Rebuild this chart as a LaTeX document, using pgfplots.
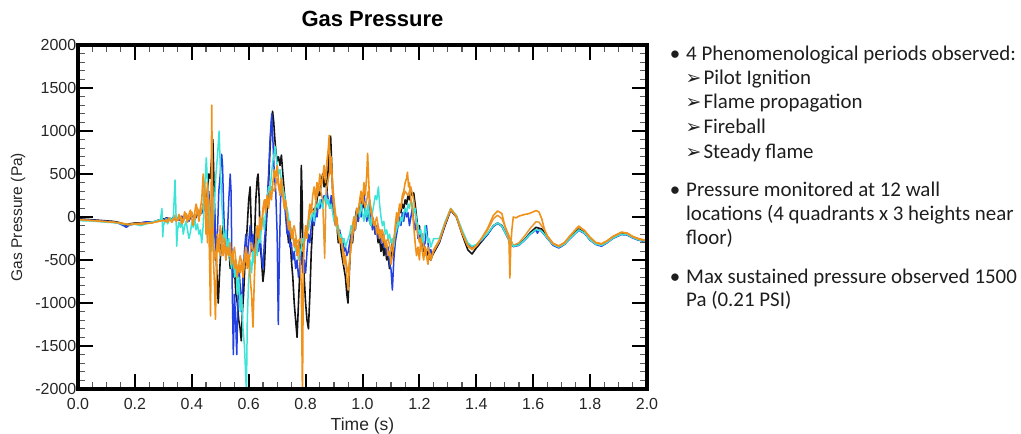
\documentclass[border=0pt]{standalone}
\usepackage{fontspec}
\usepackage{pgfplots}
\pgfplotsset{compat=1.18}
\setmainfont{Liberation Sans}
\newfontfamily\bodyfont{Carlito}
\newfontfamily\symfont{DejaVu Sans}

\definecolor{trBlack}{RGB}{20,20,20}
\definecolor{trBlue}{RGB}{35,65,225}
\definecolor{trCyan}{RGB}{60,228,215}
\definecolor{trOrange}{RGB}{240,145,25}
\definecolor{trOrangeB}{RGB}{232,150,45}
\definecolor{txt}{RGB}{30,30,30}

\begin{document}
\begin{tikzpicture}[x=1pt,y=1pt]
\useasboundingbox (0,0) rectangle (1021,434);

\begin{axis}[
  name=ax,
  at={(78pt,45pt)}, anchor=south west,
  scale only axis, width=569pt, height=344pt,
  xmin=0, xmax=2, ymin=-2000, ymax=2000,
  xtick={0,0.2,...,2.0}, ytick={-2000,-1500,...,2000},
  minor x tick num=3, minor y tick num=4,
  tick align=inside,
  tickwidth=15pt, subtickwidth=7pt,
  major tick length=15pt, minor tick length=7pt,
  every tick/.style={black},
  every major tick/.append style={line width=2pt, black},
  every minor tick/.append style={line width=1.2pt, black!65},
  clip=true,
  /pgf/number format/assume math mode=true,
  xticklabel style={font=\fontsize{16}{16}\selectfont, text=black!85,
    anchor=base, yshift=-20.7pt,
    /pgf/number format/.cd, fixed, fixed zerofill, precision=1},
  yticklabel style={font=\fontsize{16}{16}\selectfont, text=black!85, inner sep=1.5pt,
    /pgf/number format/.cd, fixed, set thousands separator={}},
  xlabel={Time (s)},
  ylabel={Gas Pressure (Pa)},
  every axis x label/.style={font=\fontsize{17.5}{17.5}\selectfont, text=black!85,
    at={(axis description cs:0.5,0)}, anchor=base, yshift=-41.7pt},
  every axis y label/.style={font=\fontsize{15.5}{15.5}\selectfont, text=black!85,
    at={(axis description cs:-0.1054,0.5)}, anchor=center, rotate=90},
  title={\textbf{Gas Pressure}},
  every axis title/.style={font=\fontsize{22}{22}\selectfont,
    at={(axis description cs:0.5,1)}, anchor=base, yshift=18.3pt, xshift=10pt},
  line join=round,
]

% wall sensor A (black)
\addplot[trBlack, line width=1.6pt] coordinates {
(0.00,-20) (0.02,-25) (0.04,-30) (0.06,-35) (0.08,-40) (0.10,-45) (0.12,-50) (0.14,-60)
(0.16,-80) (0.17,-95) (0.18,-80) (0.20,-70) (0.22,-70) (0.24,-60) (0.26,-65) (0.28,-40)
(0.30,-20) (0.305,-30) (0.31,-10) (0.315,-20) (0.32,-15) (0.325,-25) (0.33,-20) (0.335,-10)
(0.34,-30) (0.345,-15) (0.35,-20) (0.355,-10) (0.36,-20) (0.365,-5) (0.37,-15) (0.375,-10)
(0.38,0) (0.385,-20) (0.39,-30) (0.395,0) (0.40,20) (0.405,10) (0.41,-30) (0.415,0)
(0.42,40) (0.425,30) (0.43,70) (0.435,60) (0.44,120) (0.445,150) (0.45,100) (0.455,300)
(0.46,500) (0.465,450) (0.47,700) (0.474,900) (0.478,400) (0.482,-200) (0.486,-500) (0.49,-800)
(0.493,-1000) (0.497,-700) (0.50,-500) (0.505,-250) (0.51,-100) (0.515,-300) (0.52,-250) (0.525,-400)
(0.53,-350) (0.535,-600) (0.54,-500) (0.545,-700) (0.55,-600) (0.555,-900) (0.56,-1000) (0.565,-1200)
(0.57,-1300) (0.574,-1440) (0.578,-1100) (0.582,-900) (0.586,-600) (0.59,-400) (0.595,-100) (0.60,200)
(0.605,350) (0.61,-200) (0.615,-500) (0.62,-300) (0.625,200) (0.63,450) (0.633,500) (0.637,200)
(0.64,-300) (0.645,-500) (0.65,-750) (0.655,-600) (0.66,-200) (0.665,100) (0.67,400) (0.675,800)
(0.68,1100) (0.684,1230) (0.688,1100) (0.692,900) (0.696,750) (0.70,650) (0.705,700) (0.71,600)
(0.715,720) (0.72,500) (0.725,300) (0.73,100) (0.735,-100) (0.74,-300) (0.745,-200) (0.75,-500)
(0.755,-700) (0.76,-1000) (0.765,-1200) (0.77,-1400) (0.775,-1000) (0.78,-600) (0.785,600) (0.788,200)
(0.79,-400) (0.795,-700) (0.80,-1000) (0.805,-1200) (0.81,-1300) (0.815,-900) (0.82,-400) (0.825,-100)
(0.83,100) (0.835,50) (0.84,200) (0.845,300) (0.85,250) (0.855,400) (0.86,500) (0.865,350)
(0.87,450) (0.875,300) (0.88,600) (0.885,900) (0.888,940) (0.892,600) (0.895,300) (0.90,100)
(0.905,0) (0.91,-100) (0.915,-300) (0.92,-200) (0.925,-400) (0.93,-500) (0.935,-600) (0.94,-700)
(0.945,-900) (0.949,-1000) (0.953,-700) (0.957,-400) (0.96,-200) (0.965,-300) (0.97,-100) (0.975,0)
(0.98,100) (0.985,-50) (0.99,150) (0.995,250) (1.00,100) (1.005,200) (1.01,50) (1.015,0)
(1.02,100) (1.025,-50) (1.03,-100) (1.035,0) (1.04,-100) (1.045,-200) (1.05,-150) (1.055,-300)
(1.06,-250) (1.065,-400) (1.07,-300) (1.075,-450) (1.08,-350) (1.085,-500) (1.09,-450) (1.095,-600)
(1.10,-500) (1.105,-300) (1.11,-450) (1.115,-200) (1.12,-100) (1.125,0) (1.13,100) (1.135,50)
(1.14,150) (1.145,100) (1.15,200) (1.155,150) (1.16,250) (1.165,200) (1.17,300) (1.175,250)
(1.18,280) (1.185,150) (1.19,0) (1.195,-150) (1.20,-100) (1.205,-300) (1.21,-200) (1.215,-400)
(1.22,-350) (1.225,-450) (1.23,-400) (1.235,-480) (1.24,-500) (1.245,-450) (1.25,-420)
(1.27,-300) (1.29,-100) (1.31,80) (1.33,0) (1.35,-200) (1.37,-380) (1.385,-430) (1.40,-360)
(1.42,-280) (1.44,-200) (1.46,-100) (1.475,-70) (1.49,-100) (1.51,-230) (1.53,-340) (1.55,-320)
(1.57,-260) (1.59,-180) (1.61,-120) (1.63,-140) (1.65,-230) (1.67,-320) (1.69,-350) (1.71,-310)
(1.73,-230) (1.76,-140) (1.78,-180) (1.80,-260) (1.82,-310) (1.84,-325) (1.86,-290) (1.88,-240)
(1.91,-195) (1.93,-200) (1.95,-235) (1.97,-260) (2.00,-285)
};

% wall sensor B (blue)
\addplot[trBlue, line width=1.5pt] coordinates {
(0.00,-25) (0.02,-30) (0.04,-35) (0.06,-40) (0.08,-45) (0.10,-50) (0.12,-55) (0.14,-70)
(0.16,-100) (0.17,-120) (0.18,-95) (0.20,-80) (0.22,-70) (0.24,-55) (0.26,-60) (0.28,-45)
(0.30,-30) (0.305,-20) (0.31,-40) (0.315,-10) (0.32,-30) (0.325,-20) (0.33,-40) (0.335,0)
(0.34,-20) (0.345,-30) (0.35,-10) (0.355,-40) (0.36,-20) (0.365,10) (0.37,-30) (0.375,-10)
(0.38,20) (0.385,-20) (0.39,-50) (0.395,-10) (0.40,30) (0.405,0) (0.41,-40) (0.415,20)
(0.42,60) (0.425,10) (0.43,80) (0.435,40) (0.44,150) (0.445,80) (0.45,200) (0.455,100)
(0.46,300) (0.465,-100) (0.47,200) (0.475,-300) (0.48,100) (0.485,-400) (0.49,-200) (0.495,300)
(0.50,500) (0.505,730) (0.508,600) (0.512,100) (0.516,-300) (0.52,-500) (0.525,-200) (0.53,200)
(0.535,500) (0.538,300) (0.542,-800) (0.546,-1600) (0.55,-900) (0.554,-1200) (0.558,-1600) (0.562,-1000)
(0.566,-600) (0.57,-800) (0.575,-1100) (0.58,-700) (0.585,-400) (0.59,-200) (0.595,-500) (0.60,-300)
(0.605,-100) (0.61,-400) (0.615,-200) (0.62,-500) (0.625,-300) (0.63,-150) (0.635,-400) (0.64,-200)
(0.645,-450) (0.65,-600) (0.655,-300) (0.66,-100) (0.665,200) (0.67,500) (0.675,900) (0.681,1200)
(0.685,900) (0.69,500) (0.695,300) (0.70,-200) (0.704,-1250) (0.708,-400) (0.712,200) (0.716,400)
(0.72,300) (0.725,200) (0.73,0) (0.735,-200) (0.74,-100) (0.745,-350) (0.75,-300) (0.755,-500)
(0.76,-400) (0.765,-600) (0.77,-500) (0.775,-700) (0.78,-600) (0.785,-400) (0.79,-650) (0.795,-500)
(0.80,-650) (0.805,-400) (0.81,-200) (0.815,-300) (0.82,-100) (0.825,0) (0.83,-100) (0.835,50)
(0.84,0) (0.845,150) (0.85,100) (0.855,200) (0.86,150) (0.865,250) (0.87,200) (0.875,300)
(0.88,200) (0.885,100) (0.89,250) (0.895,100) (0.90,0) (0.905,-100) (0.91,-50) (0.915,-200)
(0.92,-150) (0.925,-300) (0.93,-250) (0.935,-400) (0.94,-350) (0.945,-450) (0.95,-400) (0.955,-300)
(0.96,-200) (0.965,-250) (0.97,-100) (0.975,-150) (0.98,0) (0.985,-50) (0.99,100) (0.995,0)
(1.00,150) (1.005,300) (1.01,100) (1.015,-50) (1.02,50) (1.025,200) (1.03,0) (1.035,-150)
(1.04,-50) (1.045,-200) (1.05,-100) (1.055,-250) (1.06,-150) (1.065,-300) (1.07,-200) (1.075,-350)
(1.08,-300) (1.085,-450) (1.09,-350) (1.095,-550) (1.10,-600) (1.105,-850) (1.11,-500) (1.115,-300)
(1.12,-200) (1.125,-100) (1.13,0) (1.135,-100) (1.14,50) (1.145,-50) (1.15,100) (1.155,0)
(1.16,50) (1.165,-100) (1.17,0) (1.175,100) (1.18,-50) (1.185,-150) (1.19,-50) (1.195,-250)
(1.20,-150) (1.205,-300) (1.21,-250) (1.215,-350) (1.22,-300) (1.225,-100) (1.23,-300) (1.235,-420)
(1.24,-380) (1.245,-450) (1.25,-400)
(1.27,-290) (1.29,-90) (1.31,85) (1.33,10) (1.35,-170) (1.37,-320) (1.385,-360) (1.40,-330)
(1.42,-270) (1.44,-200) (1.46,-110) (1.475,-75) (1.49,-110) (1.51,-240) (1.53,-345) (1.55,-330)
(1.57,-270) (1.59,-200) (1.61,-150) (1.615,-190) (1.62,-150) (1.63,-170) (1.65,-250) (1.67,-330)
(1.69,-360) (1.71,-320) (1.73,-250) (1.76,-155) (1.78,-190) (1.80,-270) (1.82,-320) (1.84,-340)
(1.86,-300) (1.88,-250) (1.91,-205) (1.93,-210) (1.95,-245) (1.97,-270) (2.00,-290)
};

% wall sensor C (second orange)
\addplot[trOrangeB, line width=1.5pt] coordinates {
(0.00,-35) (0.04,-40) (0.08,-50) (0.12,-60) (0.16,-75) (0.18,-85) (0.20,-75) (0.24,-70)
(0.28,-55) (0.30,-35) (0.31,-60) (0.32,-10) (0.33,-40) (0.34,20) (0.35,-40) (0.36,10)
(0.37,-60) (0.38,40) (0.39,-30) (0.40,60) (0.41,-40) (0.42,100) (0.43,20) (0.44,150)
(0.445,400) (0.45,100) (0.455,-300) (0.46,200) (0.465,-400) (0.47,300) (0.475,-200) (0.48,-500)
(0.49,-300) (0.50,-450) (0.51,-200) (0.52,-400) (0.53,-300) (0.54,-500) (0.55,-350) (0.56,-650)
(0.57,-450) (0.58,-600) (0.59,-350) (0.60,-550) (0.61,-300) (0.62,-450) (0.63,-150) (0.64,-250)
(0.65,50) (0.66,200) (0.67,150) (0.68,350) (0.69,300) (0.70,450) (0.71,250) (0.72,350)
(0.73,100) (0.74,-50) (0.75,-200) (0.76,-100) (0.77,-300) (0.78,-250) (0.79,-400) (0.80,-200)
(0.81,-50) (0.82,100) (0.83,50) (0.84,250) (0.85,350) (0.86,200) (0.867,-480) (0.872,300)
(0.88,450) (0.89,600) (0.90,200) (0.91,-100) (0.92,-250) (0.93,-350) (0.94,-500) (0.95,-650)
(0.96,-350) (0.97,-100) (0.98,50) (0.99,150) (1.00,250) (1.01,100) (1.02,300) (1.03,50)
(1.04,-100) (1.05,0) (1.06,-200) (1.07,-150) (1.08,-300) (1.09,-250) (1.10,-400) (1.11,-250)
(1.12,-100) (1.13,50) (1.14,200) (1.15,300) (1.16,250) (1.17,350) (1.18,200) (1.19,-100)
(1.20,-300) (1.21,-200) (1.22,-450) (1.23,-350) (1.24,-480) (1.25,-400)
(1.27,-280) (1.29,-70) (1.31,90) (1.33,5) (1.35,-190) (1.37,-340) (1.385,-380) (1.40,-340)
(1.42,-250) (1.44,-150) (1.46,-20) (1.475,20) (1.49,-20) (1.51,-180) (1.53,-330) (1.55,-300)
(1.57,-220) (1.59,-130) (1.61,-55) (1.62,-60) (1.64,-150) (1.65,-220) (1.67,-305) (1.69,-335)
(1.71,-295) (1.73,-215) (1.76,-105) (1.78,-155) (1.80,-235) (1.82,-295) (1.84,-310) (1.86,-275)
(1.88,-225) (1.91,-175) (1.93,-185) (1.95,-225) (1.97,-250) (2.00,-275)
};

% wall sensor D (cyan)
\addplot[trCyan, line width=1.5pt] coordinates {
(0.00,-40) (0.02,-45) (0.04,-45) (0.06,-50) (0.08,-55) (0.10,-60) (0.12,-65) (0.14,-70)
(0.16,-85) (0.18,-90) (0.20,-85) (0.22,-100) (0.24,-80) (0.26,-60) (0.28,-40) (0.29,-30)
(0.295,100) (0.298,-230) (0.30,-100) (0.305,-60) (0.31,-20) (0.315,-80) (0.32,-40) (0.325,-10)
(0.33,-60) (0.335,-20) (0.341,430) (0.344,100) (0.347,-340) (0.35,-150) (0.355,-60) (0.36,-120)
(0.365,-40) (0.37,-200) (0.375,-100) (0.38,-50) (0.385,-150) (0.39,-250) (0.395,-180) (0.40,-60)
(0.405,-120) (0.41,-20) (0.415,-150) (0.42,-80) (0.425,-200) (0.43,-150) (0.435,-300) (0.44,-100)
(0.445,300) (0.451,690) (0.455,400) (0.46,100) (0.465,-200) (0.47,-400) (0.475,-100) (0.48,200)
(0.485,500) (0.49,700) (0.496,1000) (0.50,600) (0.505,200) (0.51,-100) (0.515,-300) (0.52,-150)
(0.525,-400) (0.53,-250) (0.535,-500) (0.54,-600) (0.545,-400) (0.55,-700) (0.555,-550) (0.56,-900)
(0.565,-700) (0.57,-1100) (0.575,-900) (0.58,-1300) (0.585,-1500) (0.589,-1800) (0.592,-2050) (0.595,-1200)
(0.60,-700) (0.605,-500) (0.61,-650) (0.615,-400) (0.62,-550) (0.625,-300) (0.63,-450) (0.635,-200)
(0.64,-300) (0.645,-100) (0.65,0) (0.655,-150) (0.66,100) (0.665,200) (0.67,350) (0.675,300)
(0.68,500) (0.685,650) (0.69,750) (0.693,820) (0.697,700) (0.70,600) (0.705,500) (0.71,550)
(0.715,400) (0.72,350) (0.725,250) (0.73,150) (0.735,100) (0.74,0) (0.745,-100) (0.75,-150)
(0.755,-250) (0.76,-300) (0.765,-400) (0.77,-350) (0.775,-500) (0.78,-450) (0.785,-350) (0.79,-250)
(0.795,-300) (0.80,-200) (0.805,-100) (0.81,-150) (0.815,-50) (0.82,0) (0.825,50) (0.83,-50)
(0.835,100) (0.84,150) (0.845,100) (0.85,200) (0.855,150) (0.86,100) (0.865,200) (0.87,250)
(0.875,150) (0.88,200) (0.885,100) (0.89,150) (0.895,50) (0.90,-50) (0.905,0) (0.91,-150)
(0.915,-100) (0.92,-250) (0.925,-200) (0.93,-300) (0.935,-250) (0.94,-350) (0.945,-300) (0.95,-250)
(0.955,-200) (0.96,-100) (0.965,-150) (0.97,0) (0.975,-50) (0.98,50) (0.985,100) (0.99,0)
(0.995,150) (1.00,50) (1.005,-50) (1.01,100) (1.015,0) (1.02,150) (1.025,-50) (1.03,-100)
(1.035,50) (1.04,150) (1.045,250) (1.05,200) (1.056,350) (1.06,150) (1.065,0) (1.07,-100)
(1.075,-50) (1.08,-200) (1.085,-150) (1.09,-250) (1.095,-200) (1.10,-300) (1.105,-250) (1.11,-350)
(1.115,-200) (1.12,-150) (1.125,-50) (1.13,-100) (1.135,0) (1.14,-50) (1.145,50) (1.15,100)
(1.155,50) (1.16,150) (1.165,100) (1.17,200) (1.175,150) (1.18,50) (1.185,100) (1.19,-50)
(1.195,-100) (1.20,-200) (1.205,-150) (1.21,-300) (1.215,-250) (1.22,-100) (1.225,-200) (1.23,-300)
(1.235,-250) (1.24,-350) (1.245,-300) (1.25,-250)
(1.27,-250) (1.29,-60) (1.31,100) (1.33,20) (1.35,-150) (1.37,-300) (1.385,-340) (1.40,-320)
(1.42,-260) (1.44,-190) (1.46,-100) (1.475,-70) (1.49,-105) (1.51,-235) (1.53,-340) (1.55,-325)
(1.57,-265) (1.59,-195) (1.61,-145) (1.63,-165) (1.65,-245) (1.67,-320) (1.69,-350) (1.71,-315)
(1.73,-245) (1.76,-150) (1.78,-185) (1.80,-265) (1.82,-315) (1.84,-330) (1.86,-295) (1.88,-245)
(1.91,-200) (1.93,-205) (1.95,-240) (1.97,-265) (2.00,-285)
};

% wall sensor E (orange)
\addplot[trOrange, line width=1.6pt] coordinates {
(0.00,-30) (0.02,-35) (0.04,-40) (0.06,-45) (0.08,-50) (0.10,-55) (0.12,-60) (0.14,-65)
(0.16,-80) (0.18,-90) (0.20,-80) (0.22,-85) (0.24,-75) (0.26,-70) (0.28,-50) (0.30,-40)
(0.305,-50) (0.31,-30) (0.315,-60) (0.32,-20) (0.325,-40) (0.33,-60) (0.335,-30) (0.34,-10)
(0.345,-50) (0.35,-20) (0.355,30) (0.36,-30) (0.365,-80) (0.37,-20) (0.375,60) (0.38,0)
(0.385,-60) (0.39,30) (0.395,80) (0.40,-20) (0.405,-100) (0.41,50) (0.415,150) (0.42,80)
(0.425,-50) (0.43,100) (0.435,200) (0.44,500) (0.445,300) (0.45,-200) (0.455,400) (0.46,-100)
(0.463,-600) (0.466,-1150) (0.47,1300) (0.473,200) (0.476,-500) (0.48,-800) (0.483,-1190) (0.487,-600)
(0.49,-200) (0.495,-400) (0.50,-100) (0.505,-300) (0.51,-450) (0.515,-250) (0.52,-500) (0.525,-350)
(0.53,-450) (0.535,-300) (0.54,-550) (0.545,-400) (0.55,-600) (0.555,-500) (0.56,-700) (0.565,-550)
(0.57,-650) (0.575,-500) (0.58,-700) (0.585,-550) (0.59,-400) (0.595,-600) (0.60,-450) (0.605,-700)
(0.61,-900) (0.615,-1280) (0.62,-700) (0.625,-300) (0.63,-100) (0.635,-250) (0.64,0) (0.645,-150)
(0.65,100) (0.655,200) (0.66,50) (0.665,250) (0.67,100) (0.675,300) (0.68,200) (0.685,400)
(0.69,550) (0.695,450) (0.70,600) (0.705,400) (0.71,300) (0.715,450) (0.72,250) (0.725,100)
(0.73,200) (0.735,0) (0.74,-150) (0.745,-50) (0.75,-250) (0.755,-150) (0.76,-350) (0.765,-250)
(0.77,-450) (0.775,-300) (0.78,-500) (0.785,-800) (0.789,-2100) (0.792,-600) (0.795,-300) (0.80,-100)
(0.805,-250) (0.81,0) (0.815,150) (0.82,50) (0.825,250) (0.83,350) (0.835,200) (0.84,400)
(0.845,300) (0.85,500) (0.855,350) (0.86,450) (0.865,600) (0.87,400) (0.875,650) (0.88,800)
(0.883,950) (0.886,500) (0.89,700) (0.895,300) (0.90,100) (0.905,-100) (0.91,0) (0.915,-200)
(0.92,-300) (0.925,-250) (0.93,-400) (0.935,-550) (0.94,-450) (0.945,-700) (0.95,-850) (0.955,-500)
(0.96,-300) (0.965,-100) (0.97,0) (0.975,-150) (0.98,100) (0.985,50) (0.99,200) (0.995,300)
(1.00,150) (1.005,400) (1.01,250) (1.015,500) (1.018,740) (1.022,400) (1.025,200) (1.03,100)
(1.035,0) (1.04,-100) (1.045,-50) (1.05,-200) (1.055,-100) (1.06,-250) (1.065,-150) (1.07,-300)
(1.075,-200) (1.08,-350) (1.085,-300) (1.09,-450) (1.095,-400) (1.10,-550) (1.105,-450) (1.11,-300)
(1.115,-100) (1.12,50) (1.125,-50) (1.13,150) (1.135,100) (1.14,250) (1.145,300) (1.15,400)
(1.155,450) (1.158,520) (1.162,350) (1.165,400) (1.17,200) (1.175,100) (1.18,-100) (1.185,-300)
(1.19,-450) (1.195,-350) (1.20,-500) (1.205,-250) (1.21,-400) (1.215,-500) (1.22,-350) (1.225,-450)
(1.23,-550) (1.235,-400) (1.24,-500) (1.245,-450) (1.25,-380)
(1.27,-270) (1.29,-80) (1.31,95) (1.33,10) (1.35,-180) (1.37,-330) (1.385,-370) (1.40,-330)
(1.42,-240) (1.44,-130) (1.46,20) (1.475,70) (1.49,40) (1.50,-100) (1.51,-200) (1.515,-300)
(1.518,-710) (1.521,-350) (1.525,-150) (1.53,0) (1.54,-10) (1.55,10) (1.56,20) (1.57,30)
(1.58,35) (1.59,45) (1.60,60) (1.61,75) (1.62,60) (1.63,-20) (1.64,-150) (1.65,-230)
(1.67,-310) (1.69,-340) (1.71,-300) (1.73,-220) (1.76,-110) (1.78,-160) (1.80,-240) (1.82,-300)
(1.84,-315) (1.86,-280) (1.88,-230) (1.91,-180) (1.93,-190) (1.95,-230) (1.97,-255) (2.00,-280)
};
\end{axis}

% heavy frame round the plot area
\draw[line width=3.2pt, black] (ax.south west) rectangle (ax.north east);

% summary notes beside the plot
\begin{scope}[every node/.style={inner sep=0pt, text=txt, font=\bodyfont\fontsize{20.9}{20.9}\selectfont}]
  \node[anchor=base] at (675,373.3) {•};
  \node[anchor=base west] at (686,373.3) {4 Phenomenological periods observed:};
  \node[anchor=base] at (675,237.3) {•};
  \node[anchor=base west] at (686,237.3) {Pressure monitored at 12 wall};
  \node[anchor=base west] at (686,213.0) {locations (4 quadrants x 3 heights near};
  \node[anchor=base west] at (686,189.0) {floor)};
  \node[anchor=base] at (675,150.7) {•};
  \node[anchor=base west] at (686,150.7) {Max sustained pressure observed 1500};
  \node[anchor=base west] at (686,127.3) {Pa (0.21 PSI)};
  \foreach \yb/\item in {349.7/Pilot Ignition, 325.0/Flame propagation, 300.7/Fireball, 275.7/Steady flame}{
    \node[anchor=base west, font=\symfont\fontsize{19}{19}\selectfont] at (685.5,\yb) {➢};
    \node[anchor=base west] at (703.3,\yb) {\item};
  }
\end{scope}
\end{tikzpicture}
\end{document}
